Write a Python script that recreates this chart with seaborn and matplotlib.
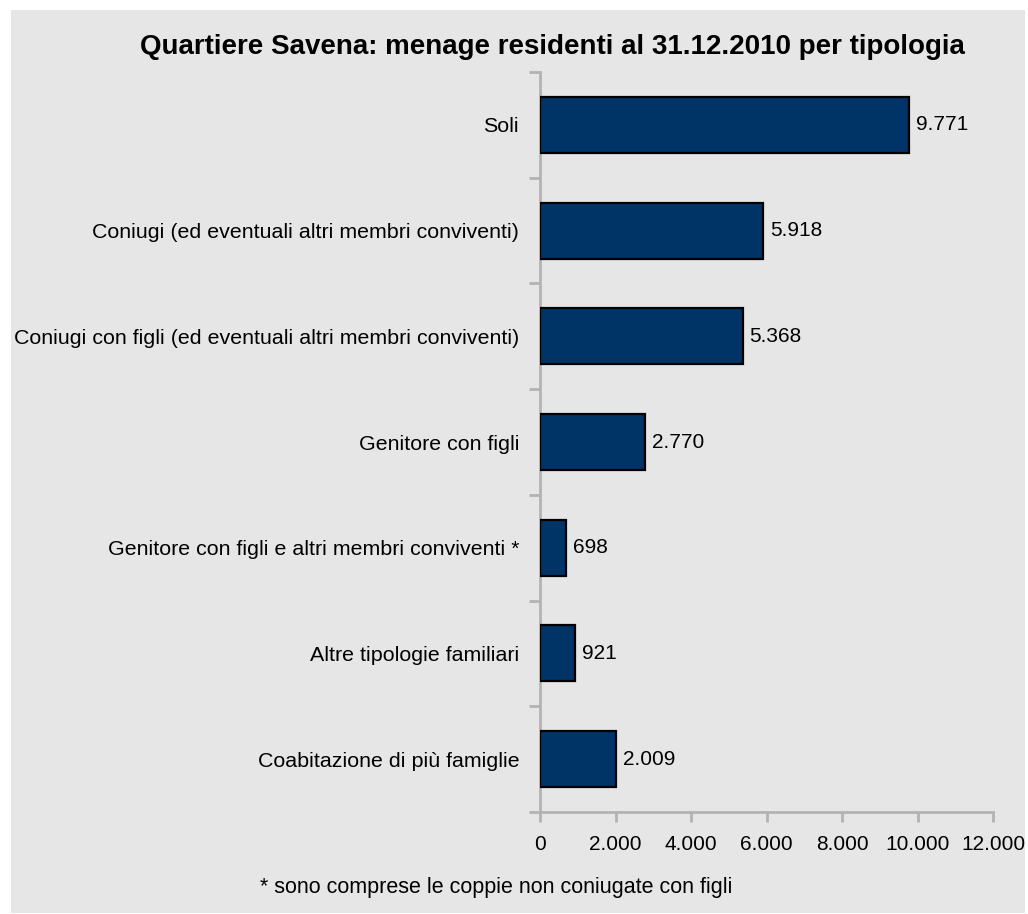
import matplotlib
matplotlib.use("Agg")
import matplotlib.pyplot as plt
import matplotlib.patches as mpatches
from matplotlib.ticker import FuncFormatter, FixedLocator
import seaborn as sns
import pandas as pd

categories = [
    "Soli",
    "Coniugi (ed eventuali altri membri conviventi)",
    "Coniugi con figli (ed eventuali altri membri conviventi)",
    "Genitore con figli",
    "Genitore con figli e altri membri conviventi *",
    "Altre tipologie familiari",
    "Coabitazione di più famiglie",
]
values = [9771, 5918, 5368, 2770, 698, 921, 2009]
x_ticks = [0, 2000, 4000, 6000, 8000, 10000, 12000]

title = "Quartiere Savena: menage residenti al 31.12.2010 per tipologia"
footnote = "* sono comprese le coppie non coniugate con figli"

df = pd.DataFrame({"tipologia": categories, "menage": values})

sns.set_theme(style="white")
plt.rcParams["font.family"] = ["Liberation Sans", "DejaVu Sans"]

W, H = 1028, 914
fig = plt.figure(figsize=(W / 100, H / 100), dpi=100, facecolor="white")

# grey chart area, drawn beneath the axes
panel = mpatches.Rectangle((11 / W, 1 - 913 / H), (1025 - 11) / W, (913 - 10) / H,
                           transform=fig.transFigure, facecolor="#e6e6e6",
                           edgecolor="none", zorder=-10)
fig.patches.append(panel)

ax = fig.add_axes([540 / W, 1 - 812 / H, (993 - 540) / W, (812 - 72) / H])
ax.set_facecolor("none")

sns.barplot(data=df, y="tipologia", x="menage", orient="h", ax=ax,
            color="#003366", saturation=1, width=0.53,
            edgecolor="black", linewidth=1.6, zorder=3)

def it_fmt(v, _pos=None):
    return f"{int(round(v)):,}".replace(",", ".")

for patch, v in zip(ax.patches, values):
    y = patch.get_y() + patch.get_height() / 2
    ax.annotate(it_fmt(v), xy=(v, y), xytext=(5, 0), textcoords="offset points",
                va="center", ha="left", fontsize=15, color="black")

ax.set_xlim(0, 12000)
ax.set_ylim(len(categories) - 0.5, -0.5)
ax.xaxis.set_major_locator(FixedLocator(x_ticks))
ax.xaxis.set_major_formatter(FuncFormatter(it_fmt))

# category labels at bar centres, tick marks at category boundaries
ax.set_yticks(range(len(categories)))
ax.set_yticklabels(categories)
ax.set_yticks([i - 0.5 for i in range(len(categories) + 1)], minor=True)
ax.tick_params(axis="y", which="major", length=0, pad=15, labelsize=15.4, labelcolor="black")
ax.tick_params(axis="y", which="minor", length=8, width=2, color="#b3b3b3", left=True)
ax.tick_params(axis="x", which="major", length=7.5, width=2, color="#b3b3b3",
               pad=9, labelsize=15, labelcolor="black", bottom=True)

for side in ("top", "right"):
    ax.spines[side].set_visible(False)
for side in ("left", "bottom"):
    ax.spines[side].set_color("#b3b3b3")
    ax.spines[side].set_linewidth(2)

ax.set_xlabel("")
ax.set_ylabel("")

fig.text(552 / W, 1 - 47 / H, title, ha="center", va="center",
         fontsize=20, fontweight="bold", color="black")
fig.text(496 / W, 1 - 888 / H, footnote, ha="center", va="center",
         fontsize=15.5, color="black")

fig.savefig("out.png", dpi=100, facecolor="white")
